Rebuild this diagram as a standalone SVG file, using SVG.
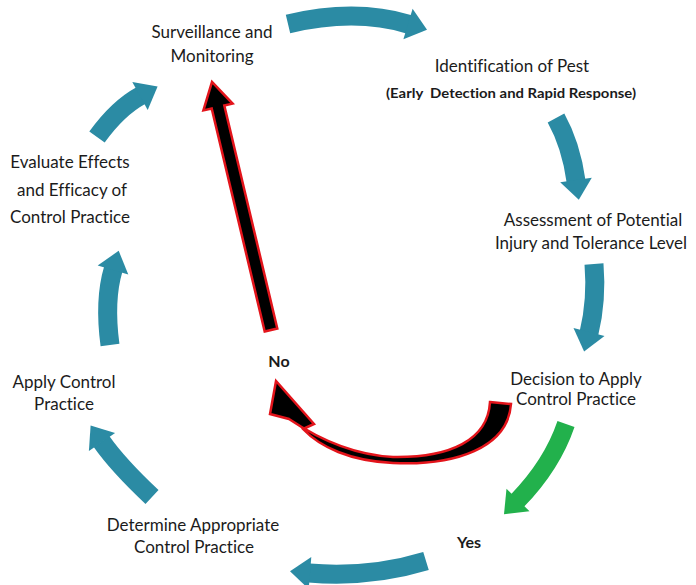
<svg xmlns="http://www.w3.org/2000/svg" width="696" height="585" viewBox="0 0 696 585">
<style>
text{font-family:Lato,"Open Sans","Liberation Sans",sans-serif;font-size:17px;fill:#1b1b1b;text-anchor:middle;font-variant-ligatures:none}
.sm{font-size:12.5px;font-weight:bold}
.b{font-weight:bold;font-size:16px}
.shaft{fill:none;stroke:#2b8ba4;stroke-width:19}
.head{fill:#2b8ba4}
.g{fill:none;stroke:#22b14c;stroke-width:18}
.gh{fill:#22b14c}
.rb{fill:#000;stroke:#e3141b;stroke-width:2.5;stroke-linejoin:miter}
</style>
<rect width="696" height="585" fill="#fff"/>
<g id="connectors">
<path class="shaft" d="M288,24 Q355,8 409,24.3"/>
<polygon class="head" points="412.6,8.7 427,29.8 403.4,39.3"/>
<path class="shaft" d="M556,118 Q571,145 576,181"/>
<polygon class="head" points="591.8,177.7 578.8,199.8 560.2,182.3"/>
<path class="shaft" d="M594,264 Q597,300 589,333"/>
<polygon class="head" points="604.5,335.9 584.1,351.4 573.5,328.1"/>
<path class="g" d="M566,424 Q552,465 517.5,500.5"/>
<polygon class="gh" points="529.5,511.2 504,514.3 506.5,488.8"/>
<path class="shaft" d="M426,561 Q370,578 309,573"/>
<polygon class="head" points="311.3,557 290,571.3 308.7,589"/>
<path class="shaft" d="M152,497 Q118,465 101.5,441.5"/>
<polygon class="head" points="115.1,432.9 90.6,425.6 88.9,451.1"/>
<path class="shaft" d="M110,345 Q104,300 113.3,269"/>
<polygon class="head" points="128.3,274.6 118.7,250.8 97.7,265.4"/>
<path class="shaft" d="M97,137 Q118,108 141,95.5"/>
<polygon class="head" points="147.7,110 157.6,86.4 132.3,82"/>
<polygon class="rb" points="264.7,331.5 277.3,328.5 224.3,105.5 232.6,103.6 212,82 203.4,110.4 211.7,108.5"/>
<path class="rb" d="M490,402 L511,404 C508,448 455,466 393,463 C350,461 320,447 303,429 L314,424 L276,381 L270,414 L289,419 C320,440 355,455 393,457 C450,458 488,440 490,402 Z"/>
</g>
<g id="surveillance"><text x="212" y="38">Surveillance and</text><text x="212" y="62">Monitoring</text></g>
<g id="identification"><text x="512" y="72">Identification of Pest</text><text class="sm" x="511" y="98" textLength="250" lengthAdjust="spacingAndGlyphs">(Early&#160; Detection and Rapid Response)</text></g>
<g id="assessment"><text x="593" y="226">Assessment of Potential</text><text x="591" y="249">Injury and Tolerance Level</text></g>
<g id="decision"><text x="576" y="385">Decision to Apply</text><text x="576" y="405">Control Practice</text></g>
<g id="yes"><text class="b" x="469" y="548">Yes</text></g>
<g id="no"><text class="b" x="279" y="367">No</text></g>
<g id="determine"><text x="193" y="531">Determine Appropriate</text><text x="194" y="553">Control Practice</text></g>
<g id="apply"><text x="64" y="388">Apply Control</text><text x="64" y="410">Practice</text></g>
<g id="evaluate"><text x="70" y="168">Evaluate Effects</text><text x="72" y="196">and Efficacy of</text><text x="70" y="223">Control Practice</text></g>
</svg>
